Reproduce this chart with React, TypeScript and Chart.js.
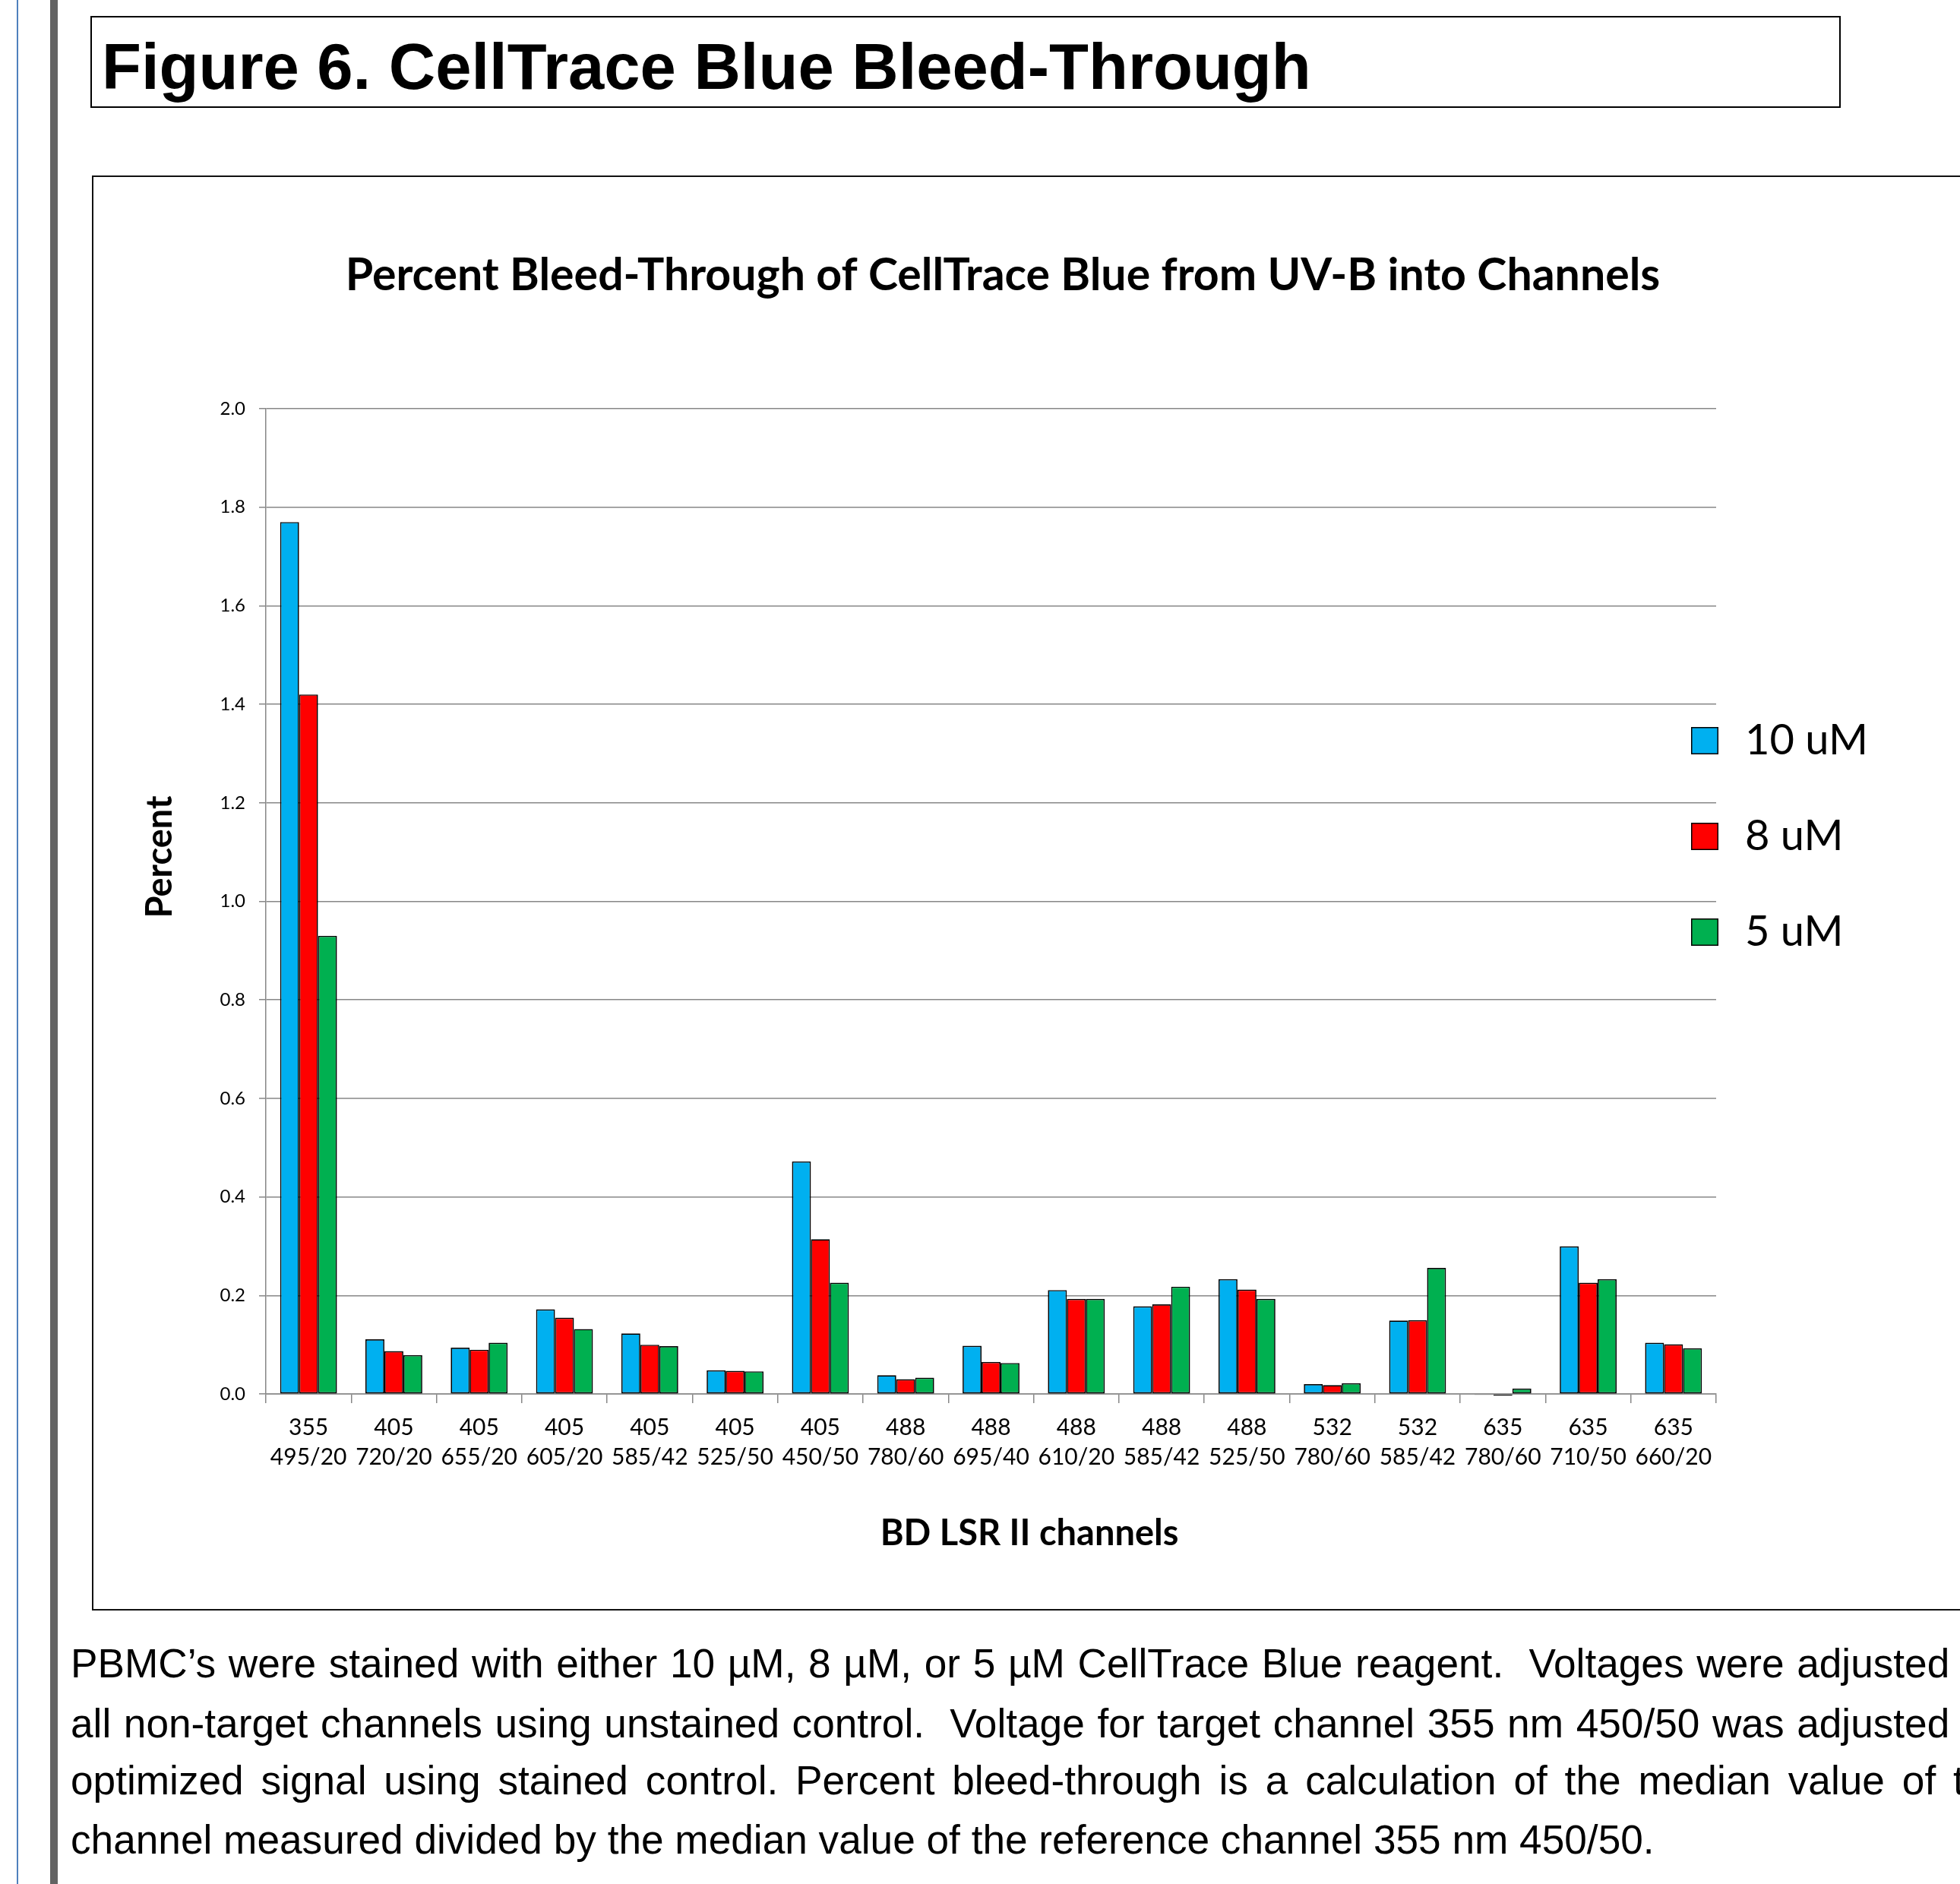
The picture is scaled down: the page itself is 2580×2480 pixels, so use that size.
import React, { useEffect, useRef } from "react";
import { Chart, registerables } from "chart.js";

Chart.register(...registerables);

// Laser line (nm) and band-pass filter for each BD LSR II channel
const laserLines = ["355", "405", "405", "405", "405", "405", "405", "488", "488", "488", "488", "488", "532", "532", "635", "635", "635"];
const filterBands = ["495/20", "720/20", "655/20", "605/20", "585/42", "525/50", "450/50", "780/60", "695/40", "610/20", "585/42", "525/50", "780/60", "585/42", "780/60", "710/50", "660/20"];

// Percent bleed-through per staining concentration
const seriesNames = ["10 uM", "8 uM", "5 uM"];
const bleed10uM = [1.77, 0.111, 0.094, 0.172, 0.123, 0.048, 0.472, 0.038, 0.098, 0.211, 0.178, 0.233, 0.02, 0.149, -0.002, 0.3, 0.104];
const bleed8uM = [1.42, 0.087, 0.09, 0.155, 0.1, 0.047, 0.314, 0.03, 0.065, 0.193, 0.182, 0.212, 0.018, 0.15, -0.003, 0.226, 0.101];
const bleed5uM = [0.93, 0.079, 0.104, 0.132, 0.097, 0.046, 0.226, 0.033, 0.063, 0.193, 0.218, 0.193, 0.022, 0.256, 0.011, 0.233, 0.093];
const seriesColors = ["#00B0F0", "#FF0000", "#00B050"];

const yMin = 0;
const yMax = 2;
const yStep = 0.2;

const figureHeading = "Figure 6. CellTrace Blue Bleed-Through";
const chartTitle = "Percent Bleed-Through of CellTrace Blue from UV-B into Channels";
const yAxisTitle = "Percent";
const xAxisTitle = "BD LSR II channels";
const captionLines = [
  "PBMC\u2019s were stained with either 10 \u00b5M, 8 \u00b5M, or 5 \u00b5M CellTrace Blue reagent.\u00a0 Voltages were adjusted for",
  "all non-target channels using unstained control.\u00a0 Voltage for target channel 355 nm 450/50 was adjusted for",
  "optimized signal using stained control. Percent bleed-through is a calculation of the median value of the",
  "channel measured divided by the median value of the reference channel 355 nm 450/50.",
];

const GRID = "#878787";
const FONT = "Lato";

// Titles and the legend are painted relative to the plot area.
const chartText = {
  id: "chartText",
  afterDraw(chart: any) {
    const { ctx, chartArea: a } = chart;
    ctx.save();
    ctx.fillStyle = "#000";
    ctx.textAlign = "center";
    ctx.textBaseline = "alphabetic";
    ctx.font = `bold 59px ${FONT}`;
    ctx.fillText(chartTitle, a.left + 970, a.top - 156);

    ctx.font = `bold 47px ${FONT}`;
    ctx.fillText(xAxisTitle, a.left + 1005, a.bottom + 199);

    ctx.save();
    ctx.translate(a.left - 139, a.top + 590);
    ctx.rotate(-Math.PI / 2);
    ctx.textBaseline = "middle";
    ctx.fillText(yAxisTitle, 0, 0);
    ctx.restore();

    // legend
    chart.data.datasets.forEach((ds: any, i: number) => {
      const x = a.right - 33;
      const y = a.top + 419 + i * 126;
      ctx.fillStyle = ds.backgroundColor;
      ctx.fillRect(x, y, 36, 36);
      ctx.strokeStyle = "#000";
      ctx.lineWidth = 1.5;
      ctx.strokeRect(x + 0.75, y + 0.75, 34.5, 34.5);
      ctx.fillStyle = "#000";
      ctx.font = `56px ${FONT}`;
      ctx.textAlign = "left";
      ctx.textBaseline = "middle";
      ctx.fillText(ds.label, x + 71, y + 18);
    });
    ctx.restore();
  },
};

function BleedThroughChart() {
  const canvasRef = useRef<HTMLCanvasElement | null>(null);

  useEffect(() => {
    const canvas = canvasRef.current;
    if (!canvas) return;
    const series = [bleed10uM, bleed8uM, bleed5uM];
    const chart = new Chart(canvas, {
      type: "bar",
      data: {
        labels: laserLines.map((laser, i) => [laser, filterBands[i]]),
        datasets: series.map((values, i) => ({
          label: seriesNames[i],
          data: values,
          backgroundColor: seriesColors[i],
          borderColor: "#000",
          borderWidth: 1.7,
          borderSkipped: false,
          categoryPercentage: 2 / 3,
          barPercentage: 1,
          clip: false,
        })),
      },
      options: {
        responsive: false,
        animation: false,
        devicePixelRatio: 1,
        layout: { padding: { top: 303, bottom: 131, left: 0, right: 321 } },
        plugins: {
          legend: { display: false },
          title: { display: false },
          tooltip: { enabled: false },
        },
        scales: {
          x: {
            grid: {
              display: true,
              drawOnChartArea: false,
              drawTicks: true,
              tickLength: 12,
              color: GRID,
              lineWidth: 1.5,
              offset: true,
            },
            border: { display: true, color: GRID, width: 1.5 },
            ticks: {
              font: { family: FONT, size: 30, lineHeight: 1.3 },
              color: "#000",
              padding: 13,
              maxRotation: 0,
              autoSkip: false,
            },
            afterFit(scale: any) {
              scale.height = 150;
            },
          },
          y: {
            min: yMin,
            max: yMax,
            ticks: {
              stepSize: yStep,
              callback: (v: any) => Number(v).toFixed(1),
              font: { family: FONT, size: 24 },
              color: "#000",
              padding: 18,
            },
            grid: { color: GRID, lineWidth: 1.5, tickLength: 9, drawTicks: true },
            border: { display: true, color: GRID, width: 1.5 },
            afterFit(scale: any) {
              scale.width = 226;
            },
          },
        },
      },
      plugins: [chartText],
    });
    return () => chart.destroy();
  }, []);

  return (
    <canvas
      ref={canvasRef}
      width={2456}
      height={1881}
      style={{ position: "absolute", left: 124, top: 235, width: 2456, height: 1881 }}
    />
  );
}

export default function App() {
  return (
    <div
      style={{
        position: "absolute",
        left: 0,
        top: 0,
        width: 2580,
        height: 2480,
        overflow: "hidden",
        background: "#fff",
      }}
    >
      <div style={{ position: "absolute", left: 22, top: 0, width: 2, height: 2480, background: "#4F81BD" }} />
      <div style={{ position: "absolute", left: 66, top: 0, width: 10, height: 2480, background: "#636363" }} />
      <div
        style={{
          position: "absolute",
          left: 119,
          top: 21,
          width: 2304,
          height: 121,
          border: "2.5px solid #000",
          boxSizing: "border-box",
        }}
      />
      <div
        style={{
          position: "absolute",
          left: 134,
          top: 45,
          font: "bold 85px 'Liberation Sans', Arial, sans-serif",
          lineHeight: "86px",
          whiteSpace: "nowrap",
          color: "#000",
        }}
      >
        {figureHeading}
      </div>
      <div
        style={{
          position: "absolute",
          left: 121,
          top: 231,
          width: 2600,
          height: 1889,
          border: "2px solid #111",
          boxSizing: "border-box",
        }}
      />
      <BleedThroughChart />
      {captionLines.map((line, i) => (
        <div
          key={i}
          style={{
            position: "absolute",
            left: 93,
            top: [2151, 2230, 2305, 2383][i],
            width: 2552,
            height: 77,
            overflow: "hidden",
            font: "53.2px 'Liberation Sans', Arial, sans-serif",
            lineHeight: "77px",
            textAlign: i < 3 ? "justify" : "left",
            textAlignLast: i < 3 ? "justify" : "left",
            color: "#000",
          }}
        >
          {line}
        </div>
      ))}
    </div>
  );
}
